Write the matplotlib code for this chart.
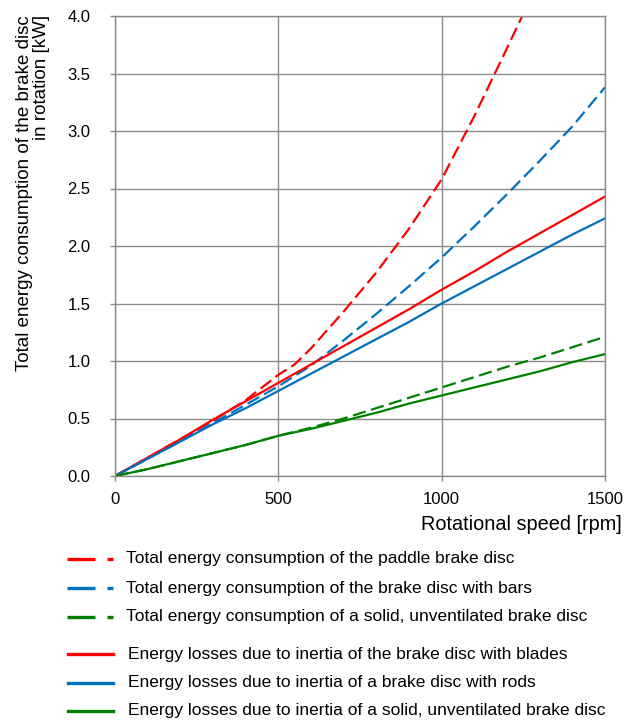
import matplotlib
matplotlib.use('Agg')
import matplotlib.pyplot as plt
from matplotlib.lines import Line2D

plt.rcParams['font.family'] = ['Liberation Sans', 'DejaVu Sans']
plt.rcParams['font.size'] = 12

# rotational speed [rpm]
rpm = [0, 100, 200, 300, 400, 500, 600, 700, 800, 900, 1000, 1100, 1200, 1300, 1400, 1500]
rpm_paddle = [0, 100, 200, 300, 400, 500, 550, 600, 700, 800, 900, 1000, 1100, 1200, 1250]

# total energy consumption [kW]
total_paddle = [0, 0.16, 0.32, 0.48, 0.66, 0.88, 0.97, 1.11, 1.43, 1.77, 2.15, 2.58, 3.13, 3.72, 4.02]
total_bars = [0, 0.15, 0.30, 0.46, 0.62, 0.78, 0.96, 1.18, 1.41, 1.65, 1.90, 2.17, 2.45, 2.74, 3.04, 3.38]
total_solid = [0, 0.06, 0.13, 0.20, 0.27, 0.35, 0.42, 0.50, 0.59, 0.68, 0.77, 0.86, 0.95, 1.03, 1.12, 1.21]

# energy losses due to inertia [kW]
inertia_blades = [0, 0.16, 0.32, 0.49, 0.65, 0.81, 0.97, 1.13, 1.29, 1.45, 1.62, 1.78, 1.95, 2.11, 2.27, 2.43]
inertia_rods = [0, 0.15, 0.30, 0.45, 0.59, 0.74, 0.89, 1.04, 1.19, 1.34, 1.50, 1.65, 1.80, 1.95, 2.10, 2.24]
inertia_solid = [0, 0.06, 0.13, 0.20, 0.27, 0.35, 0.41, 0.48, 0.55, 0.63, 0.70, 0.77, 0.84, 0.91, 0.99, 1.06]

labels_total = [
    'Total energy consumption of the paddle brake disc',
    'Total energy consumption of the brake disc with bars',
    'Total energy consumption of a solid, unventilated brake disc',
]
labels_inertia = [
    'Energy losses due to inertia of the brake disc with blades',
    'Energy losses due to inertia of a brake disc with rods',
    'Energy losses due to inertia of a solid, unventilated brake disc',
]

RED = '#ff0000'
BLUE = '#0070c0'
GREEN = '#008000'
colors = [RED, BLUE, GREEN]

W, H = 632, 722
fig = plt.figure(figsize=(W / 100, H / 100), dpi=100)
ax = fig.add_axes([115 / W, 1 - 476 / H, 490 / W, 460 / H])

lw = 1.6
dash = (6, 2.5)
ax.plot(rpm_paddle, total_paddle, color=RED, lw=lw, dashes=dash)
ax.plot(rpm, total_bars, color=BLUE, lw=lw, dashes=dash)
ax.plot(rpm, total_solid, color=GREEN, lw=lw, dashes=dash)
ax.plot(rpm, inertia_blades, color=RED, lw=lw)
ax.plot(rpm, inertia_rods, color=BLUE, lw=lw)
ax.plot(rpm, inertia_solid, color=GREEN, lw=lw)

ax.set_xlim(0, 1500)
ax.set_ylim(0, 4.0)
ax.set_xticks([0, 500, 1000, 1500])
ax.set_yticks([0, 0.5, 1.0, 1.5, 2.0, 2.5, 3.0, 3.5, 4.0])
ax.set_yticklabels([f'{v:.1f}' for v in ax.get_yticks()])
ax.grid(True, color='#8c8c8c', lw=1.0)
ax.set_axisbelow(True)
for s in ax.spines.values():
    s.set_color('#8c8c8c')
    s.set_linewidth(1.0)
ax.tick_params(direction='out', length=3.6, width=1, color='#8c8c8c', labelsize=12)
ax.tick_params(axis='y', pad=14)
ax.tick_params(axis='x', pad=8)

fig.text(622 / W, 1 - 525 / H, 'Rotational speed [rpm]', ha='right', va='center', fontsize=14.3)
fig.text(33 / W, 1 - 15 / H, 'Total energy consumption of the brake disc\nin rotation [kW]',
         rotation=90, ha='center', va='top', multialignment='right', fontsize=13.5,
         linespacing=0.98)

# legend, drawn by hand to get the two groups
rows_total = [559, 588, 617]
rows_inertia = [654, 683, 711]
for c, lab, y in zip(colors, labels_total, rows_total):
    fig.add_artist(Line2D([67 / W, 113 / W], [1 - y / H] * 2, color=c, lw=2.4,
                          dashes=(8.4, 3.6), transform=fig.transFigure))
    fig.text(126 / W, 1 - y / H, lab, va='center', ha='left', fontsize=12.5)
for c, lab, y in zip(colors, labels_inertia, rows_inertia):
    fig.add_artist(Line2D([68 / W, 113 / W], [1 - y / H] * 2, color=c, lw=2.4,
                          transform=fig.transFigure))
    fig.text(128 / W, 1 - y / H, lab, va='center', ha='left', fontsize=12.5)

fig.savefig('out.png', dpi=100)
